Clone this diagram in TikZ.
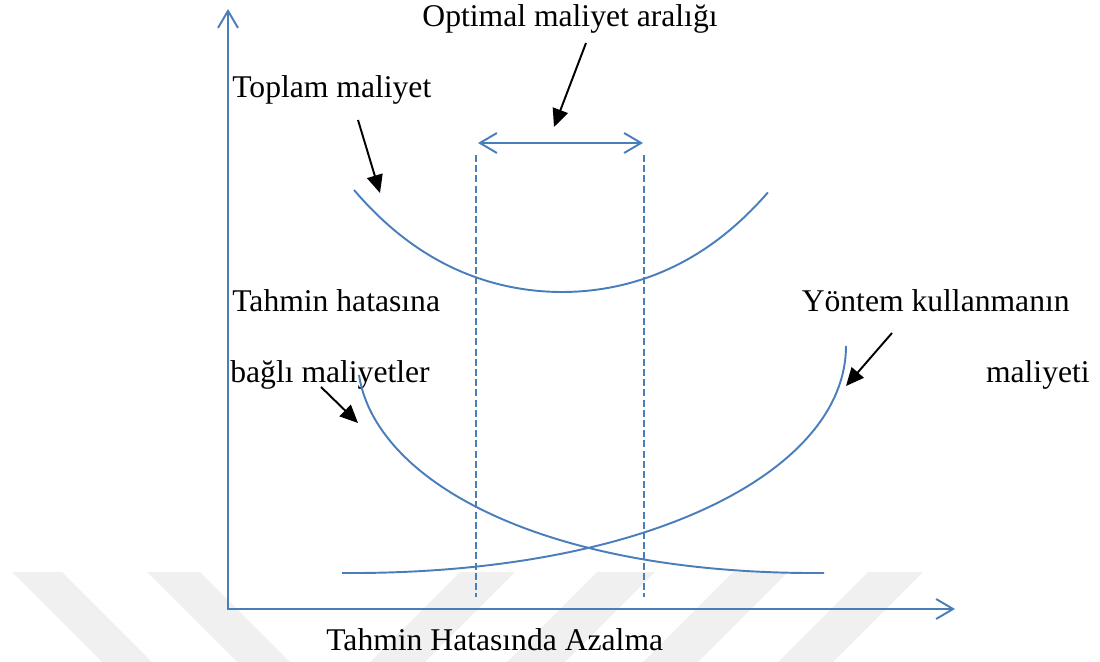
\documentclass[tikz,border=0pt]{standalone}
\usepackage{fontspec}
\setmainfont{Liberation Serif}
\usetikzlibrary{arrows.meta}
\definecolor{lineblue}{HTML}{4A7EBB}
\definecolor{wmgray}{HTML}{F0F0F0}
\begin{document}
\begin{tikzpicture}[x=0.02cm,y=-0.02cm,
  lbl/.style={font=\fontsize{18}{22}\selectfont, inner sep=0pt},
  curve/.style={lineblue, line width=1.1pt},
  barb/.tip={Straight Barb[length=0.34cm,width=0.4cm,line width=1.1pt]},
  guide/.style={lineblue, line width=0.8pt, dash pattern=on 4pt off 1.8pt},
  pointer/.style={black, line width=1.1pt, -{Triangle[length=0.36cm,width=0.32cm]}},
  stripe/.style={fill=wmgray, draw=none}]
\useasboundingbox (0,0) rectangle (1100,662);
% watermark stripes
\begin{scope}
\clip (0,0) rectangle (1100,662);
\fill[stripe] (12,572) -- (62,572) -- (152,662) -- (102,662) -- cycle;
\fill[stripe] (147,572) -- (200,572) -- (290,662) -- (237,662) -- cycle;
\fill[stripe] (460,572) -- (515,572) -- (425,662) -- (370,662) -- cycle;
\fill[stripe] (597,572) -- (655,572) -- (565,662) -- (507,662) -- cycle;
\fill[stripe] (733,572) -- (788,572) -- (698,662) -- (643,662) -- cycle;
\fill[stripe] (868,572) -- (923,572) -- (833,662) -- (778,662) -- cycle;
\end{scope}
% labels
\node[lbl, anchor=base] (opt) at (570,27) {Optimal maliyet aralığı};
\node[lbl, anchor=base west] (top) at (232,98) {Toplam maliyet};
\node[lbl, anchor=base west] (th) at (232,312) {Tahmin hatasına};
\node[lbl, anchor=base west] (bm) at (230,383) {bağlı maliyetler};
\node[lbl, anchor=base east] (yk) at (1070,312) {Yöntem kullanmanın};
\node[lbl, anchor=base east] (ym) at (1090,383) {maliyeti};
\node[lbl, anchor=base west] (xl) at (326,650) {Tahmin Hatasında Azalma};
% axes
\coordinate (O) at (228,609);
\coordinate (ytip) at (228,9);
\coordinate (xtip) at (955,609);
\draw[lineblue, line width=1.1pt, line join=miter, barb-barb] (ytip) -- (O) -- (xtip);
% optimal range
\coordinate (rl) at (478,143);
\coordinate (rr) at (643,143);
\draw[curve, barb-barb] (rl) -- (rr);
\coordinate (d1t) at (476,155);
\coordinate (d1b) at (476,597);
\coordinate (d2t) at (644,155);
\coordinate (d2b) at (644,597);
\draw[guide] (d1t) -- (d1b);
\draw[guide] (d2t) -- (d2b);
% curves
\draw[curve] plot[domain=-2.08:2.06, samples=100, variable=\u]
  ({562+100*\u},{292-19.02*\u*\u-1.053*\u*\u*\u*\u});
\draw[curve] (359,375) .. controls (375,480) and (540,575) .. (824,573);
\draw[curve] (342,573) .. controls (650,575) and (846,470) .. (846,346);
% pointers
\coordinate (p1s) at (358,120); \coordinate (p1e) at (380,193);
\coordinate (p2s) at (586,43);  \coordinate (p2e) at (554,127);
\coordinate (p3s) at (321,387); \coordinate (p3e) at (358,423);
\coordinate (p4s) at (892,333); \coordinate (p4e) at (846,386);
\draw[pointer] (p1s) -- (p1e);
\draw[pointer] (p2s) -- (p2e);
\draw[pointer] (p3s) -- (p3e);
\draw[pointer] (p4s) -- (p4e);
\end{tikzpicture}
\end{document}
